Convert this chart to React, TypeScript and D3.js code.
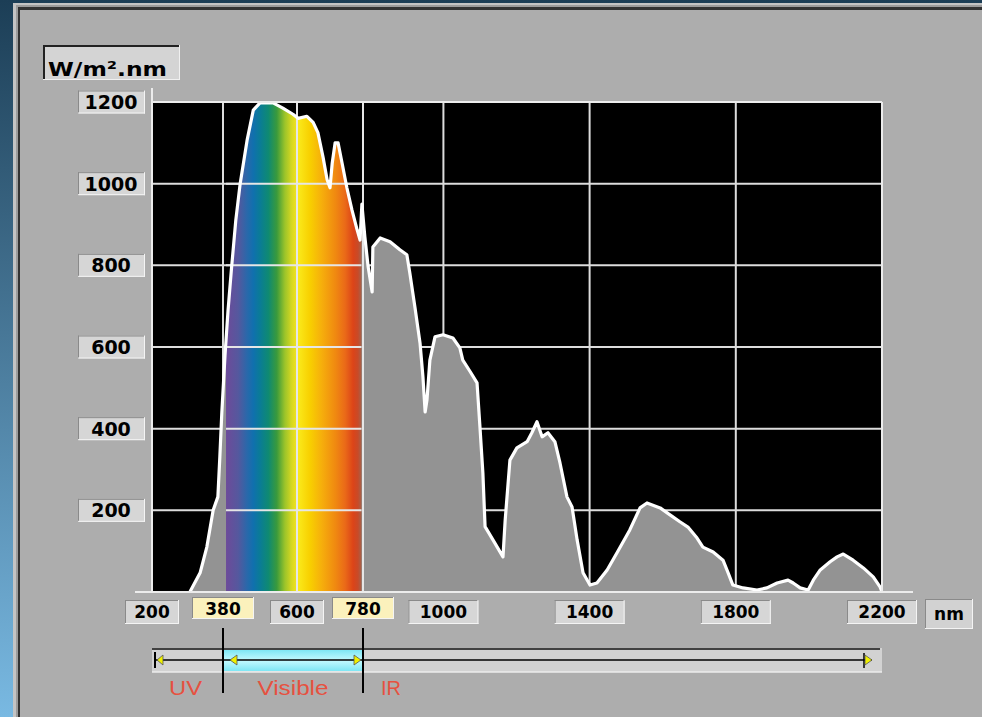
import React from "react";
import * as d3 from "d3";

// Spectral irradiance (nm, W/m².nm)
const spectrum: [number, number][] = [
  [296, 0], [322, 47], [339, 110], [355, 200], [367, 233], [372, 331], [377, 439],
  [386, 580], [395, 690], [405, 790], [418, 910], [431, 1000], [452, 1108], [470, 1180], [490, 1198],
  [529, 1198], [558, 1185], [588, 1170], [603, 1160], [627, 1165], [644, 1150], [657, 1125],
  [671, 1065], [682, 1010], [690, 990], [696, 1050], [704, 1100], [712, 1100], [723, 1050],
  [736, 990], [750, 935], [764, 887], [772, 862], [777, 950], [785, 870], [794, 797],
  [805, 735], [807, 845], [827, 867], [854, 858], [881, 838], [900, 826], [908, 782],
  [922, 698], [936, 610], [944, 527], [950, 441], [955, 470], [963, 568], [977, 625],
  [999, 630], [1026, 622], [1045, 598], [1053, 568], [1073, 540], [1092, 512], [1100, 404],
  [1108, 291], [1114, 160], [1136, 127], [1163, 86], [1169, 176], [1182, 323], [1201, 353],
  [1229, 368], [1242, 390], [1256, 417], [1270, 380], [1286, 390], [1305, 368], [1319, 316],
  [1338, 233], [1352, 208], [1366, 127], [1382, 47], [1401, 17], [1420, 22], [1448, 54],
  [1475, 96], [1510, 152], [1538, 206], [1557, 218], [1593, 206], [1620, 189], [1647, 172],
  [1669, 159], [1694, 132], [1710, 110], [1738, 98], [1765, 78], [1779, 47], [1792, 17],
  [1820, 10], [1858, 5], [1885, 10], [1913, 22], [1943, 29], [1957, 22], [1976, 10],
  [1998, 5], [2012, 29], [2031, 54], [2058, 74], [2077, 86], [2094, 93], [2121, 78],
  [2149, 59], [2176, 37], [2195, 12], [2200, 0],
];

const xTicks = [200, 380, 600, 780, 1000, 1400, 1800, 2200];
const xHighlighted = [380, 780];
const xGrid = [380, 600, 780, 1000, 1400, 1800];
const yTicks = [200, 400, 600, 800, 1000, 1200];
const yGrid = [200, 400, 600, 800, 1000];
const unitLabel = "W/m².nm";
const xUnit = "nm";

// visible band colours (wavelength nm, colour)
const bandStops: [number, string][] = [
  [392, "#6b4c9a"], [425, "#55589e"], [451, "#2a68aa"], [470, "#1070ae"], [490, "#0a7c96"],
  [515, "#0f8a72"], [540, "#3a9a3c"], [564, "#9cc42a"], [585, "#d8d820"],
  [605, "#fae81a"], [635, "#f8d000"], [668, "#f6ae0c"], [704, "#f08a10"],
  [731, "#ea6a18"], [753, "#dc4418"], [766, "#c84a28"], [775, "#a86048"],
];

const ranges = [
  { name: "UV", from: 200, to: 380 },
  { name: "Visible", from: 380, to: 780 },
  { name: "IR", from: 780, to: 2200 },
];

function SunkenBox({ x, y, w, h, fill }: { x: number; y: number; w: number; h: number; fill: string }) {
  return (
    <g>
      <rect x={x} y={y} width={w} height={h} fill={fill} />
      <line x1={x} y1={y + 0.5} x2={x + w} y2={y + 0.5} stroke="#8a8a8a" />
      <line x1={x + 0.5} y1={y} x2={x + 0.5} y2={y + h} stroke="#8a8a8a" />
      <line x1={x} y1={y + h - 0.5} x2={x + w} y2={y + h - 0.5} stroke="#f4f4f4" />
      <line x1={x + w - 0.5} y1={y} x2={x + w - 0.5} y2={y + h} stroke="#f4f4f4" />
    </g>
  );
}

export default function App() {
  const W = 982, H = 717;
  const x = d3.scaleLinear().domain([200, 380, 600, 780, 2200]).range([152, 223, 297, 363, 882]);
  const y = d3.scaleLinear().domain([0, 1200]).range([592, 102]);
  const [x0, x1] = [x(200), x(2200)];
  const [yb, yt] = [y(0), y(1200)];

  const area = d3.area<[number, number]>().x((d) => x(d[0])).y0(yb).y1((d) => y(d[1]));
  const line = d3.line<[number, number]>().x((d) => x(d[0])).y((d) => y(d[1]));

  const cL = x(389), cR = x(776);
  const numFont = "'DejaVu Sans', sans-serif";
  const bs0 = x(bandStops[0][0]);
  const bs1 = x(bandStops[bandStops.length - 1][0]);

  return (
    <svg width={W} height={H} style={{ position: "absolute", left: 0, top: 0, display: "block" }}>
      <defs>
        <linearGradient id="bg" x1="0" y1="0" x2="0" y2="1">
          <stop offset="0" stopColor="#1c3e56" />
          <stop offset="1" stopColor="#79b9e2" />
        </linearGradient>
        <linearGradient id="band" gradientUnits="userSpaceOnUse" x1={bs0} x2={bs1} y1={0} y2={0}>
          {bandStops.map(([nm, c], i) => (
            <stop key={i} offset={(x(nm) - bs0) / (bs1 - bs0)} stopColor={c} />
          ))}
        </linearGradient>
        <linearGradient id="cyan" x1="0" y1="0" x2="0" y2="1">
          <stop offset="0" stopColor="#7ee6f4" />
          <stop offset="0.5" stopColor="#c4faff" />
          <stop offset="1" stopColor="#7ee6f4" />
        </linearGradient>
        <clipPath id="colorClip">
          <rect x={cL} y={yt} width={cR - cL} height={yb - yt} />
        </clipPath>
        <clipPath id="plotClip">
          <rect x={x0} y={yt - 3} width={x1 - x0} height={yb - yt + 3} />
        </clipPath>
      </defs>

      <rect x={0} y={0} width={W} height={H} fill="url(#bg)" />
      <rect x={13} y={3} width={W} height={H} fill="#c4c4c4" />
      <rect x={16} y={5} width={W} height={H} fill="#9c9c9c" />
      <rect x={18} y={7} width={W} height={H} fill="#333" />
      <rect x={20} y={10} width={W} height={H} fill="#adadad" />

      {/* unit box */}
      <rect x={43} y={45} width={137} height={35} fill="#d4d4d4" />
      <line x1={43} y1={46} x2={180} y2={46} stroke="#222" strokeWidth={2} />
      <line x1={44} y1={45} x2={44} y2={80} stroke="#222" strokeWidth={2} />
      <line x1={43} y1={79.5} x2={180} y2={79.5} stroke="#f0f0f0" />
      <line x1={179.5} y1={45} x2={179.5} y2={80} stroke="#f0f0f0" />
      <text x={48} y={76} fontFamily={numFont} fontWeight="bold" fontSize={20} textLength={119} lengthAdjust="spacingAndGlyphs" fill="#000">
        {unitLabel}
      </text>

      {/* plot background */}
      <rect x={x0} y={yt} width={x1 - x0} height={yb - yt} fill="#000" />
      <g stroke="#dcdcdc" strokeWidth={2}>
        {yGrid.map((v) => <line key={"h" + v} x1={x0} x2={x1} y1={y(v)} y2={y(v)} />)}
        {xGrid.map((v) => <line key={"v" + v} x1={x(v)} x2={x(v)} y1={yt} y2={yb} />)}
      </g>

      <g clipPath="url(#plotClip)">
        <path d={area(spectrum) || ""} fill="#939393" />
        <path d={area(spectrum) || ""} fill="url(#band)" clipPath="url(#colorClip)" />
        <g stroke="#e6e6e6" strokeWidth={2} clipPath="url(#colorClip)">
          {yGrid.map((v) => <line key={"ch" + v} x1={x0} x2={x1} y1={y(v)} y2={y(v)} />)}
          {xGrid.map((v) => <line key={"cv" + v} x1={x(v)} x2={x(v)} y1={yt} y2={yb} />)}
        </g>
        <line x1={x(780)} x2={x(780)} y1={yt} y2={yb} stroke="#e6e6e6" strokeWidth={2} />
        <path d={line(spectrum) || ""} fill="none" stroke="#fff" strokeWidth={3.2} strokeLinejoin="round" strokeLinecap="round" />
      </g>

      {/* frame */}
      <g stroke="#ececec" strokeWidth={2}>
        <line x1={x0} x2={x1} y1={yt} y2={yt} />
        <line x1={x1} x2={x1} y1={yt} y2={yb} />
        <line x1={x0} x2={x0} y1={88} y2={yb} />
        <line x1={135} x2={913} y1={yb} y2={yb} />
      </g>

      {/* y labels */}
      {yTicks.map((v) => (
        <g key={"yl" + v}>
          <SunkenBox x={78} y={y(v) - 11.5} w={67} h={23} fill="#d6d6d6" />
          <text x={111} y={y(v) + 7} textAnchor="middle" fontFamily={numFont} fontWeight="bold" fontSize={19} fill="#000">{v}</text>
        </g>
      ))}

      {/* x labels */}
      {xTicks.map((v) => {
        const hl = xHighlighted.includes(v);
        const w = String(v).length === 4 ? 70 : hl ? 62 : 54;
        const top = hl ? 597 : 600;
        return (
          <g key={"xl" + v}>
            <SunkenBox x={x(v) - w / 2} y={top} w={w} h={hl ? 22 : 24} fill={hl ? "#fbf1bc" : "#d6d6d6"} />
            <text x={x(v)} y={top + 18} textAnchor="middle" fontFamily={numFont} fontWeight="bold" fontSize={17} fill="#000">{v}</text>
          </g>
        );
      })}
      <SunkenBox x={925} y={599} w={48} h={30} fill="#d2d2d2" />
      <text x={949} y={620} textAnchor="middle" fontFamily={numFont} fontWeight="bold" fontSize={17} fill="#000">{xUnit}</text>

      {/* range bar */}
      <rect x={x0} y={648} width={x1 - x0} height={24} fill="#d2d2d2" />
      <rect x={x(380)} y={650} width={x(780) - x(380)} height={21} fill="url(#cyan)" />
      <line x1={x0} x2={x1 - 2} y1={649} y2={649} stroke="#111" strokeWidth={1.5} />
      <line x1={x0} x2={x1} y1={672} y2={672} stroke="#ececec" strokeWidth={1.5} />
      <line x1={x0 + 3} x2={x(2200) - 10} y1={660} y2={660} stroke="#000" strokeWidth={1.5} />
      <line x1={x0 + 3} x2={x0 + 3} y1={652} y2={668} stroke="#000" strokeWidth={2} />
      <polygon points={`${x0 + 5},660 ${x0 + 11},655 ${x0 + 11},665`} fill="#f0f000" stroke="#555" strokeWidth={0.8} />
      <polygon points={`${x(380) + 7},660 ${x(380) + 14},655 ${x(380) + 14},665`} fill="#f0f000" stroke="#555" strokeWidth={0.8} />
      <polygon points={`${x(780) - 2},660 ${x(780) - 9},655 ${x(780) - 9},665`} fill="#f0f000" stroke="#555" strokeWidth={0.8} />
      <line x1={x(2200) - 18} x2={x(2200) - 18} y1={653} y2={668} stroke="#000" strokeWidth={1.5} />
      <polygon points={`${x(2200) - 10},660 ${x(2200) - 17},655 ${x(2200) - 17},665`} fill="#f0f000" stroke="#555" strokeWidth={0.8} />
      {[380, 780].map((v) => (
        <line key={"d" + v} x1={x(v)} x2={x(v)} y1={628} y2={693} stroke="#000" strokeWidth={2} />
      ))}
      {ranges.map((r) => {
        const cx = r.name === "IR" ? x(780) + 28 : (x(r.from) + x(r.to)) / 2 - (r.name === "UV" ? 2 : 0);
        const tl = r.name === "UV" ? 33 : r.name === "Visible" ? 71 : 20;
        return (
          <text key={r.name} x={cx} y={695} textAnchor="middle" fontFamily="'Liberation Sans', Arial, sans-serif" fontSize={20} fill="#e65140" textLength={tl} lengthAdjust="spacingAndGlyphs">
            {r.name}
          </text>
        );
      })}
    </svg>
  );
}
